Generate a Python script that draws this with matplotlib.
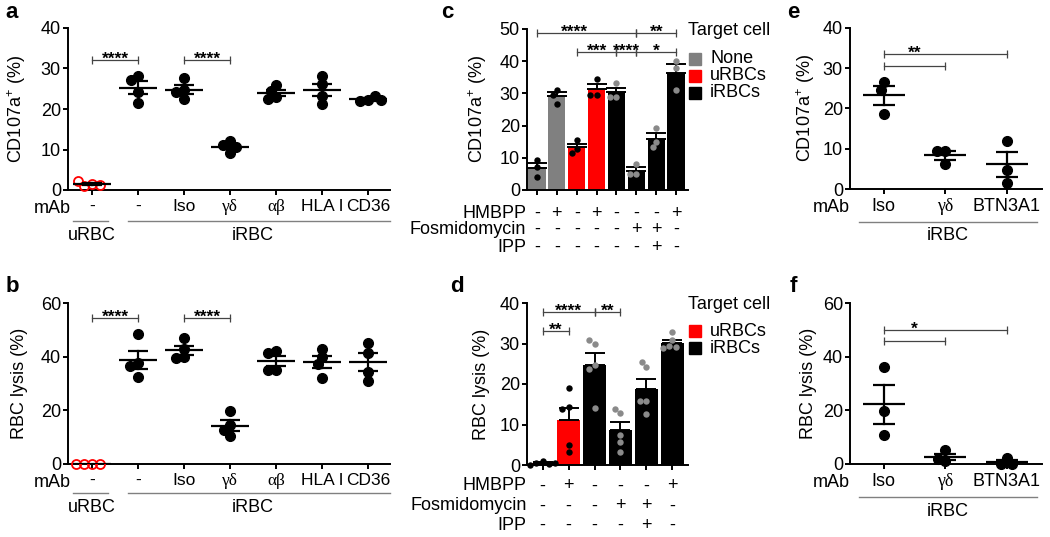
import numpy as np
import matplotlib
matplotlib.use("Agg")
import matplotlib.pyplot as plt
import matplotlib.transforms as mtransforms

plt.rcParams['font.family'] = ['Liberation Sans', 'DejaVu Sans']
plt.rcParams['mathtext.fontset'] = 'custom'
plt.rcParams['mathtext.rm'] = 'Liberation Sans'
plt.rcParams['mathtext.default'] = 'regular'
plt.rcParams['font.size'] = 13

RED = '#ff0000'
GREY = '#808080'
DOT_GREY = '#8a8a8a'

# ---- data ----
a_groups = ['-', '-', 'Iso', 'γδ', 'αβ', 'HLA I', 'CD36']
a_cd107 = [[1.6, 1.0, 1.3, 2.3],
           [28.2, 21.6, 24.2, 27.2],
           [27.6, 24.7, 24.2, 22.5],
           [12.0, 11.0, 9.1, 10.7],
           [26.0, 24.5, 23.0, 22.5],
           [28.2, 26.1, 23.3, 21.3],
           [22.2, 21.9, 23.2, 22.1]]
b_lysis = [[0, 0, 0, 0],
           [48.5, 37.5, 36.5, 32.5],
           [47.0, 43.0, 40.0, 39.5],
           [19.6, 14.7, 12.5, 10.3],
           [42.0, 41.4, 35.2, 35.2],
           [42.9, 39.9, 37.3, 32.0],
           [45.2, 41.5, 34.4, 31.0]]

c_target = ['None', 'None', 'uRBCs', 'uRBCs', 'iRBCs', 'iRBCs', 'iRBCs', 'iRBCs']
c_hmbpp = ['-', '+', '-', '+', '-', '-', '-', '+']
c_fos = ['-', '-', '-', '-', '-', '+', '+', '-']
c_ipp = ['-', '-', '-', '-', '-', '-', '+', '-']
c_cd107 = [[9.3, 7.0, 4.1], [31.0, 29.4, 26.8], [15.5, 12.8, 11.4],
           [34.5, 29.6, 29.6], [33.2, 29.0, 28.8], [8.0, 5.0, 5.0],
           [19.2, 15.0, 13.3], [40.1, 37.9, 31.1]]

d_target = ['uRBCs', 'uRBCs', 'iRBCs', 'iRBCs', 'iRBCs', 'iRBCs']
d_hmbpp = ['-', '+', '-', '-', '-', '+']
d_fos = ['-', '-', '-', '+', '+', '-']
d_ipp = ['-', '-', '-', '-', '+', '-']
d_lysis = [[1.0, 0.6, 0.2, 0.0, 0.5],
           [19.0, 14.3, 13.8, 4.9, 3.1],
           [29.9, 30.8, 24.7, 23.8, 14.0],
           [12.8, 13.9, 7.4, 5.6, 3.1],
           [24.2, 25.4, 15.8, 15.8, 12.5],
           [32.8, 30.8, 29.4, 29.2, 29.0]]

e_groups = ['Iso', 'γδ', 'BTN3A1']
e_cd107 = [[26.5, 24.7, 18.6], [9.5, 9.4, 6.2], [12.0, 4.8, 1.5]]
f_lysis = [[36.0, 19.9, 10.7], [5.1, 1.0, 1.9], [2.2, 0.1, 0.1]]

target_colors = {'None': GREY, 'uRBCs': RED, 'iRBCs': 'black'}

W, H = 1050, 537
fig = plt.figure(figsize=(W / 100, H / 100), dpi=100)

TICK_PAD_PX = 4
MAB_TOP_PX = 5 + TICK_PAD_PX + 1


def add_ax(left, right, top, bottom):
    ax = fig.add_axes([left / W, 1 - bottom / H, (right - left) / W, (bottom - top) / H])
    for s in ['top', 'right']:
        ax.spines[s].set_visible(False)
    for s in ['left', 'bottom']:
        ax.spines[s].set_linewidth(1.4)
    ax.tick_params(width=1.4, length=3.6, pad=1.5, labelsize=13, colors='black')
    ax.tick_params(axis='x', pad=TICK_PAD_PX * 0.72)
    return ax


def below(ax, px):
    # axes-bottom, shifted down by px pixels
    return mtransforms.offset_copy(ax.get_xaxis_transform(), fig=fig, y=-px, units='dots')


def swarm_x(ax, xc, vals, diam):
    placed, out = [], []
    for v in vals:
        px, py = ax.transData.transform((xc, v))
        best = None
        for k in range(400):
            for sgn in ((1,) if k == 0 else (-1, 1)):
                cx = px + sgn * k * 0.5
                if all((cx - qx) ** 2 + (py - qy) ** 2 >= diam ** 2 for qx, qy in placed):
                    best = cx
                    break
            if best is not None:
                break
        placed.append((best, py))
        out.append(ax.transData.inverted().transform((best, py))[0])
    return out


def bracket(ax, x1, x2, y, text=None, tx=None):
    ax.plot([x1, x2], [y, y], color='#444444', lw=0.9, marker='|', ms=5.5, mew=0.9,
            clip_on=False, zorder=5)
    if text:
        tx = (x1 + x2) / 2 if tx is None else tx
        ax.annotate(text, (tx, y), xytext=(0, -2.8), textcoords='offset points',
                    ha='center', va='baseline', fontsize=12.5, fontweight='bold')


def dot_panel(ax, values, open_red, mean_hw, sem_hw, ms=7):
    diam = ms * 100 / 72 * 0.8
    for i, v in enumerate(values):
        v = np.asarray(v, float)
        m = v.mean()
        s = v.std(ddof=1) / np.sqrt(len(v))
        xs = swarm_x(ax, i, v, diam)
        if i in open_red:
            ax.plot(xs, v, 'o', ms=ms - 0.5, mfc='none', mec=RED, mew=1.3, clip_on=False, zorder=4)
        else:
            ax.plot(xs, v, 'o', ms=ms, color='black', clip_on=False, zorder=3)
        ax.plot([i - mean_hw, i + mean_hw], [m, m], color='black', lw=1.6, zorder=5, solid_capstyle='butt')
        if s > 0:
            for yy in (m - s, m + s):
                ax.plot([i - sem_hw, i + sem_hw], [yy, yy], color='black', lw=1.6, zorder=5,
                        solid_capstyle='butt')
            ax.plot([i, i], [m - s, m + s], color='black', lw=1.6, zorder=5)


def bar_panel(ax, values, targets, width):
    for i, v in enumerate(values):
        v = np.asarray(v, float)
        m = v.mean()
        s = v.std(ddof=1) / np.sqrt(len(v))
        col = target_colors[targets[i]]
        ax.bar(i, m, width=width, color=col, zorder=2)
        ax.errorbar(i, m, yerr=[[0], [s]], color='black', elinewidth=1.4, capsize=7,
                    capthick=1.4, zorder=3)
        dcol = DOT_GREY if col == 'black' else 'black'
        xs = swarm_x(ax, i, v, 4.6 * 100 / 72)
        ax.plot(xs, v, 'o', ms=4.6, color=dcol, mew=0, clip_on=False, zorder=4)


def label_fix(ax, size=13):
    for t in ax.get_xticklabels():
        t.set_fontsize(size)
        if t.get_text() in ('γδ', 'αβ'):
            t.set_fontfamily(['Liberation Serif', 'DejaVu Serif'])


def mab(ax, x):
    ax.text(x, 0, 'mAb', transform=below(ax, MAB_TOP_PX), ha='center', va='top')


# ---- panel a ----
ax = add_ax(68, 390, 28, 190)
ax.set_xlim(-0.52, 6.48)
ax.set_ylim(0, 40)
ax.set_yticks([0, 10, 20, 30, 40])
ax.set_xticks(range(len(a_groups)))
ax.set_xticklabels(a_groups)
label_fix(ax, 12.5)
dot_panel(ax, a_cd107, open_red=[0], mean_hw=0.41, sem_hw=0.22)
ax.set_ylabel('CD107a$^{+}$ (%)')
ax.yaxis.set_label_coords(-0.125, 0.5)
bracket(ax, 0, 1, 32.2, '****')
bracket(ax, 2, 3, 32.2, '****')
mab(ax, -0.87)
ax.plot([-0.41, 0.35], [0, 0], transform=below(ax, 31), color=GREY, lw=1, clip_on=False)
ax.plot([0.78, 6.48], [0, 0], transform=below(ax, 31), color=GREY, lw=1, clip_on=False)
ax.text(0, 0, 'uRBC', transform=below(ax, 45), ha='center', va='center')
ax.text(3.5, 0, 'iRBC', transform=below(ax, 45), ha='center', va='center')

# ---- panel b ----
ax = add_ax(68, 390, 303, 464)
ax.set_xlim(-0.52, 6.48)
ax.set_ylim(0, 60)
ax.set_yticks([0, 20, 40, 60])
ax.set_xticks(range(len(a_groups)))
ax.set_xticklabels(a_groups)
label_fix(ax, 12.5)
dot_panel(ax, b_lysis, open_red=[0], mean_hw=0.41, sem_hw=0.22)
ax.set_ylabel('RBC lysis (%)')
ax.yaxis.set_label_coords(-0.125, 0.5)
bracket(ax, 0, 1, 54.4, '****')
bracket(ax, 2, 3, 54.4, '****')
mab(ax, -0.87)
ax.plot([-0.41, 0.35], [0, 0], transform=below(ax, 29), color=GREY, lw=1, clip_on=False)
ax.plot([0.78, 6.48], [0, 0], transform=below(ax, 29), color=GREY, lw=1, clip_on=False)
ax.text(0, 0, 'uRBC', transform=below(ax, 43), ha='center', va='center')
ax.text(3.5, 0, 'iRBC', transform=below(ax, 43), ha='center', va='center')


def rows_and_legend(ax, rows, xlab, legend_items, title_y, item_y):
    for name, signs, off in rows:
        ax.text(xlab, 0, name, transform=below(ax, off), ha='right', va='center')
        for i, s in enumerate(signs):
            ax.text(i, 0, s, transform=below(ax, off), ha='center', va='center')
    ax.text(1.0, title_y, 'Target cell', transform=ax.transAxes, ha='left', va='center')
    for (lab, col), yy in zip(legend_items, item_y):
        ax.plot([1.043], [yy], 's', ms=8, color=col, transform=ax.transAxes, clip_on=False)
        ax.text(1.137, yy, lab, transform=ax.transAxes, ha='left', va='center')


# ---- panel c ----
ax = add_ax(527, 688, 29, 190)
ax.set_xlim(-0.5, 7.6)
ax.set_ylim(0, 50)
ax.set_yticks([0, 10, 20, 30, 40, 50])
ax.set_xticks(range(len(c_cd107)))
ax.set_xticklabels([])
bar_panel(ax, c_cd107, c_target, 0.87)
ax.set_ylabel('CD107a$^{+}$ (%)')
ax.yaxis.set_label_coords(-0.236, 0.5)
bracket(ax, 0, 5, 48.8, '****', tx=1.9)
bracket(ax, 5, 7, 48.8, '**')
bracket(ax, 2, 4, 42.8, '***')
bracket(ax, 4, 5, 42.8, '****')
bracket(ax, 5, 7, 42.8, '*')
rows_and_legend(ax, [('HMBPP', c_hmbpp, 23), ('Fosmidomycin', c_fos, 39), ('IPP', c_ipp, 57)],
                -0.55, [('None', GREY), ('uRBCs', RED), ('iRBCs', 'black')],
                0.99, [0.815, 0.71, 0.605])

# ---- panel d ----
ax = add_ax(527, 688, 303, 465)
ax.set_xlim(-0.6, 5.6)
ax.set_ylim(0, 40)
ax.set_yticks([0, 10, 20, 30, 40])
ax.set_xticks(range(len(d_lysis)))
ax.set_xticklabels([])
bar_panel(ax, d_lysis, d_target, 0.87)
ax.set_ylabel('RBC lysis (%)')
ax.yaxis.set_label_coords(-0.23, 0.5)
bracket(ax, 0, 1, 33.0, '**')
bracket(ax, 0, 2, 37.7, '****')
bracket(ax, 2, 3, 37.7, '**')
rows_and_legend(ax, [('HMBPP', d_hmbpp, 21), ('Fosmidomycin', d_fos, 41), ('IPP', d_ipp, 60)],
                -0.62, [('uRBCs', RED), ('iRBCs', 'black')],
                0.99, [0.825, 0.72])

# ---- panel e ----
ax = add_ax(850, 1042, 28, 189)
ax.set_xlim(-0.55, 2.57)
ax.set_ylim(0, 40)
ax.set_yticks([0, 10, 20, 30, 40])
ax.set_xticks(range(len(e_groups)))
ax.set_xticklabels(e_groups)
label_fix(ax)
dot_panel(ax, e_cd107, open_red=[], mean_hw=0.34, sem_hw=0.18)
ax.set_ylabel('CD107a$^{+}$ (%)')
ax.yaxis.set_label_coords(-0.172, 0.5)
bracket(ax, 0, 2, 33.5, '**', tx=0.5)
bracket(ax, 0, 1, 30.5)
mab(ax, -0.85)
ax.plot([-0.41, 2.49], [0, 0], transform=below(ax, 33), color=GREY, lw=1, clip_on=False)
ax.text(1.04, 0, 'iRBC', transform=below(ax, 47), ha='center', va='center')

# ---- panel f ----
ax = add_ax(850, 1042, 303, 464)
ax.set_xlim(-0.55, 2.57)
ax.set_ylim(0, 60)
ax.set_yticks([0, 20, 40, 60])
ax.set_xticks(range(len(e_groups)))
ax.set_xticklabels(e_groups)
label_fix(ax)
dot_panel(ax, f_lysis, open_red=[], mean_hw=0.34, sem_hw=0.18)
ax.set_ylabel('RBC lysis (%)')
ax.yaxis.set_label_coords(-0.172, 0.5)
bracket(ax, 0, 2, 50.1, '*', tx=0.5)
bracket(ax, 0, 1, 46.0)
mab(ax, -0.85)
ax.plot([-0.41, 2.49], [0, 0], transform=below(ax, 33), color=GREY, lw=1, clip_on=False)
ax.text(1.04, 0, 'iRBC', transform=below(ax, 47), ha='center', va='center')

# panel letters
for lab, x, y in [('a', 12, 12), ('b', 12, 287), ('c', 447, 13), ('d', 457, 287),
                  ('e', 793, 12), ('f', 793, 286)]:
    fig.text(x / W, 1 - y / H, lab, fontsize=16, fontweight='bold', ha='center', va='center')

fig.savefig('out.png', dpi=100)
